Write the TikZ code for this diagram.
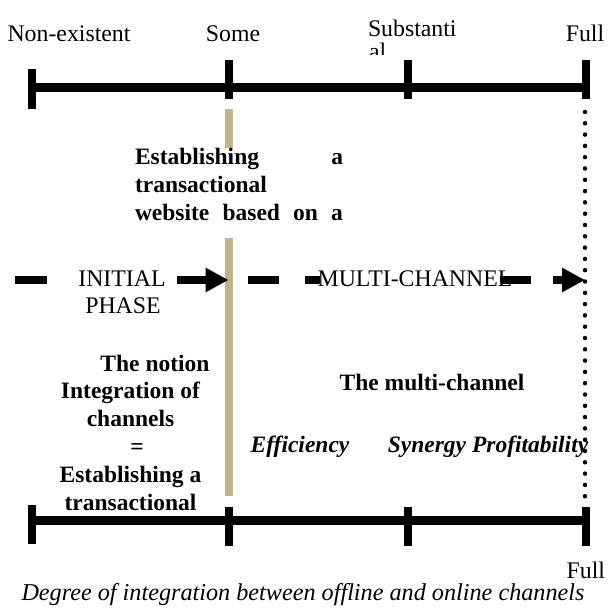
\documentclass[tikz,border=0pt]{standalone}
\usepackage{fontspec}
\setmainfont{Liberation Serif}
\usetikzlibrary{arrows.meta}
\definecolor{tanc}{RGB}{192,181,140}
\begin{document}
\begin{tikzpicture}[x=1pt,y=-1pt,
  txt/.style={font=\fontsize{23.8}{28}\selectfont, inner sep=0pt, outer sep=0pt},
  btxt/.style={font=\fontsize{23.5}{28}\selectfont\bfseries, inner sep=0pt, outer sep=0pt},
  bitxt/.style={font=\fontsize{23.5}{28}\selectfont\bfseries\itshape, inner sep=0pt, outer sep=0pt},
  itxt/.style={font=\fontsize{24.2}{28}\selectfont\itshape, inner sep=0pt, outer sep=0pt},
  axisline/.style={line width=8.5pt},
  tickline/.style={line width=8pt},
  barline/.style={line width=8pt, draw=tanc},
  dashseg/.style={line width=8pt},
  arrowseg/.style={line width=8pt, -{Triangle[length=23pt,width=23pt]}},
  dotline/.style={line width=4.5pt, line cap=round, dash pattern=on 0pt off 11.3pt}
]
\useasboundingbox (0,0) rectangle (607,612);

% top labels
\node[txt, anchor=base] (lne) at (69,42) {Non-existent};
\node[txt, anchor=base] (lso) at (233,42) {Some};
\node[txt, anchor=base west] (lsu) at (368,37) {Substanti};
\begin{scope}
  \clip (360,0) rectangle (470,55);
  \node[txt, anchor=base west] (lsub) at (369,60) {al};
\end{scope}
\node[txt, anchor=base] (lfu) at (585,42) {Full};

% top axis
\coordinate (ta0) at (32,87.5);
\coordinate (ta3) at (585.5,87.5);
\draw[axisline] (ta0) -- (ta3);
\draw[tickline] (32,69) -- (32,109);
\draw[tickline] (229,60) -- (229,99);
\draw[tickline] (407.5,60) -- (407.5,99);
\draw[tickline] (585.5,60) -- (585.5,99);

% tan bar
\draw[barline] (229,109) -- (229,148);
\draw[barline] (229,238) -- (229,496);

% upper bold block
\node[btxt, anchor=base west] (ea) at (135,165) {\makebox[208pt][s]{Establishing a}};
\node[btxt, anchor=base west] (eb) at (135,193) {transactional};
\node[btxt, anchor=base west] (ec) at (135,221) {\makebox[208pt][s]{website based on a}};

% phase labels
\node[txt, anchor=base] (ini) at (122,286) {INITIAL};
\node[txt, anchor=base] (pha) at (123,313) {PHASE};
\node[txt, anchor=base] (mul) at (415,286) {MULTI-CHANNEL};

% dashed arrows
\coordinate (d0a) at (15,280);   \coordinate (d0b) at (47,280);
\coordinate (d1a) at (177,280);  \coordinate (d1b) at (228.5,280);
\coordinate (d2a) at (248,280);  \coordinate (d2b) at (279,280);
\coordinate (d3a) at (305,280);  \coordinate (d3b) at (320,280);
\coordinate (d4a) at (500,280);  \coordinate (d4b) at (531,280);
\coordinate (d5a) at (553,280);  \coordinate (d5b) at (585,280);
\draw[dashseg] (d0a) -- (d0b);
\draw[arrowseg] (d1a) -- (d1b);
\draw[dashseg] (d2a) -- (d2b);
\draw[dashseg] (d3a) -- (d3b);
\draw[dashseg] (d4a) -- (d4b);
\draw[arrowseg] (d5a) -- (d5b);

% left column
\node[btxt, anchor=base] (n1) at (155,371) {The notion};
\node[btxt, anchor=base] (n2) at (130.5,398) {Integration of};
\node[btxt, anchor=base] (n3) at (130.5,426) {channels};
\node[btxt, anchor=base] (n4) at (137,454) {=};
\node[btxt, anchor=base] (n5) at (130.5,482) {Establishing a};
\node[btxt, anchor=base] (n6) at (130.5,510) {transactional};

% right area
\node[btxt, anchor=base] (mc) at (432,390) {The multi-channel};
\node[bitxt, anchor=base] (eff) at (300,452) {Efficiency};
\node[bitxt, anchor=base] (syn) at (488,452) {Synergy Profitability};

% dotted line
\coordinate (dt0) at (585,112);
\coordinate (dt1) at (585,500);
\draw[dotline] (dt0) -- (dt1);

% bottom axis
\coordinate (ba0) at (31.5,520.5);
\coordinate (ba3) at (585.5,520.5);
\draw[axisline] (ba0) -- (ba3);
\draw[tickline] (31.5,505) -- (31.5,544);
\draw[tickline] (229,507) -- (229,546);
\draw[tickline] (407.5,507) -- (407.5,546);
\draw[tickline] (585.5,507) -- (585.5,546);

% bottom labels
\node[txt, anchor=base east] (bfu) at (605,578) {Full};
\node[itxt, anchor=base] (cap) at (303,600) {Degree of integration between offline and online channels};
\end{tikzpicture}
\end{document}
